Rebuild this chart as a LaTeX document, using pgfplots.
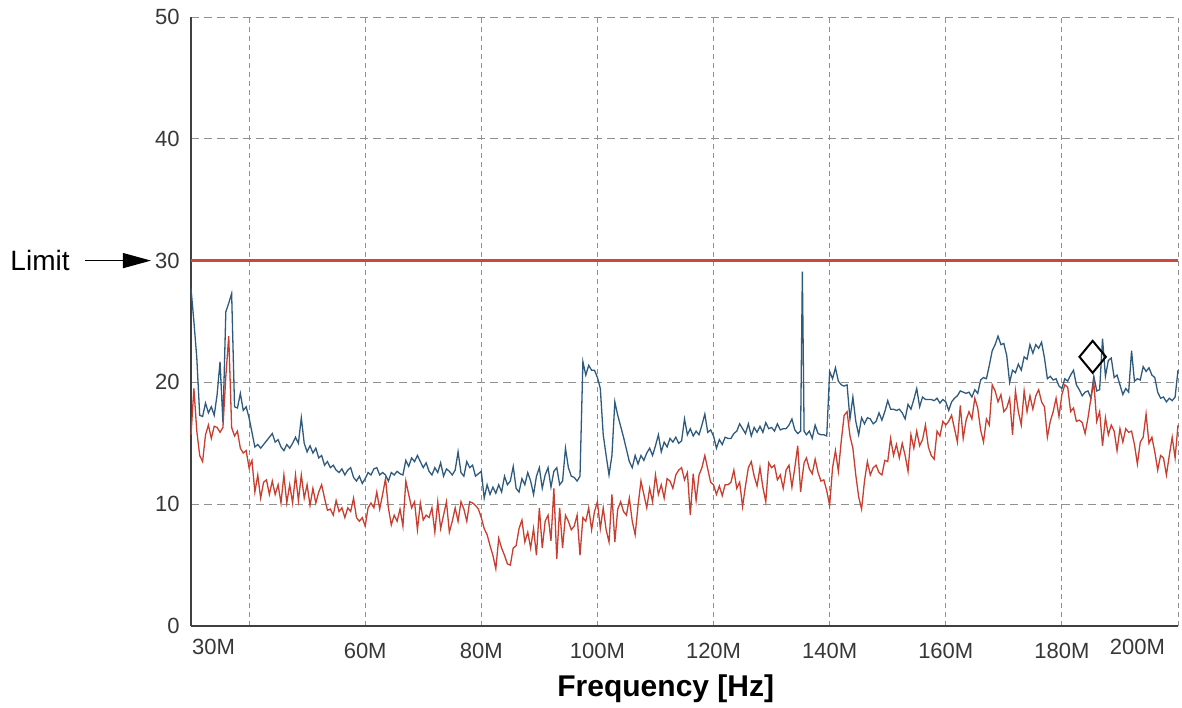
\documentclass[border=0pt]{standalone}
\usepackage{fontspec}
\setmainfont{Liberation Sans}
\usepackage{pgfplots}
\usepackage{pgfplotstable}
\pgfplotsset{compat=1.18}
\usetikzlibrary{arrows.meta}

\definecolor{traceblue}{RGB}{46,90,126}
\definecolor{tracered}{RGB}{200,62,48}
\definecolor{limitred}{RGB}{204,72,58}
\definecolor{gridgray}{RGB}{145,145,145}
\definecolor{labelgray}{RGB}{55,55,55}

% frequency [MHz], upper trace (blue), lower trace (red)
\pgfplotstableread[row sep=\\]{
f b r\\
30.0 27.7 15.7\\ 30.5 25.0 19.5\\ 31.0 22.0 16.0\\ 31.5 17.3 14.0\\ 32.0 17.2 13.5\\ 32.5 18.3 15.7\\
33.0 17.5 16.5\\ 33.5 18.0 15.4\\ 34.0 17.3 16.4\\ 34.5 19.0 16.3\\ 35.0 21.7 15.9\\ 35.5 16.7 16.3\\
36.0 25.8 20.5\\ 36.5 26.5 23.8\\ 37.0 27.3 16.3\\ 37.5 18.0 15.6\\ 38.0 17.9 16.0\\ 38.5 19.1 14.6\\
39.0 17.7 14.2\\ 39.5 18.0 14.4\\ 40.0 17.1 13.0\\ 40.5 15.9 13.6\\ 41.0 14.7 11.0\\
41.5 14.9 12.4\\ 42.0 14.6 10.5\\ 42.5 14.9 11.8\\ 43.0 15.2 12.0\\ 43.5 15.5 10.8\\ 44.0 15.8 11.9\\
44.5 15.1 10.8\\ 45.0 15.3 11.6\\ 45.5 14.7 10.1\\ 46.0 14.4 12.4\\ 46.5 14.9 10.1\\ 47.0 14.6 11.6\\
47.5 15.0 10.1\\ 48.0 15.5 12.4\\ 48.5 15.0 10.3\\ 49.0 17.1 12.4\\ 49.5 15.0 10.5\\ 50.0 14.3 11.6\\
50.5 14.8 9.9\\ 51.0 14.2 11.3\\ 51.5 14.6 10.1\\ 52.0 13.8 11.0\\ 52.5 14.0 11.6\\ 53.0 13.2 10.5\\
53.5 13.5 9.5\\ 54.0 13.0 9.6\\ 54.5 13.2 9.1\\ 55.0 12.8 10.3\\ 55.5 12.6 9.4\\ 56.0 12.9 9.7\\
56.5 12.4 8.9\\ 57.0 12.8 9.7\\ 57.5 13.0 9.4\\ 58.0 12.2 10.5\\
58.5 11.9 8.9\\ 59.0 12.3 8.6\\ 59.5 11.7 8.9\\ 60.0 12.1 8.2\\ 60.5 12.6 9.7\\ 61.0 12.4 10.1\\
61.5 12.9 9.7\\ 62.0 13.0 11.0\\ 62.5 12.4 9.6\\ 63.0 12.6 10.8\\ 63.5 12.4 12.1\\ 64.0 11.9 9.7\\
64.5 12.6 8.3\\ 65.0 12.4 9.1\\ 65.5 12.7 8.6\\ 66.0 12.5 9.6\\ 66.5 12.4 8.2\\ 67.0 13.6 11.9\\
67.5 13.1 10.8\\ 68.0 13.8 9.7\\ 68.5 13.5 10.2\\ 69.0 14.0 7.9\\ 69.5 13.5 10.1\\ 70.0 13.0 8.7\\
70.5 13.4 9.1\\ 71.0 12.7 8.9\\ 71.5 12.4 9.7\\ 72.0 13.0 7.7\\ 72.5 12.6 10.2\\ 73.0 13.4 8.0\\
73.5 12.3 9.1\\ 74.0 12.9 10.2\\ 74.5 12.7 7.7\\ 75.0 12.4 8.6\\ 75.5 12.8 9.7\\ 76.0 14.3 8.6\\
76.5 12.6 10.2\\ 77.0 12.3 9.6\\ 77.5 13.5 8.6\\ 78.0 13.0 10.2\\ 78.5 13.2 10.1\\ 79.0 12.3 9.9\\
79.5 12.5 9.6\\ 80.0 12.7 8.9\\ 80.5 10.5 8.0\\ 81.0 11.6 7.5\\ 81.5 10.8 6.6\\ 82.0 11.4 5.8\\
82.5 10.9 4.7\\ 83.0 11.6 7.2\\ 83.5 11.0 6.4\\ 84.0 12.3 5.8\\ 84.5 11.6 5.1\\ 85.0 11.9 5.0\\
85.5 13.1 6.4\\ 86.0 11.3 6.6\\
86.5 11.0 8.0\\ 87.0 12.1 8.7\\ 87.5 11.6 6.9\\ 88.0 12.6 7.7\\ 88.5 11.9 6.4\\ 89.0 10.8 8.0\\
89.5 12.3 5.8\\ 90.0 13.0 9.7\\ 90.5 11.3 6.4\\ 91.0 12.4 8.6\\ 91.5 13.0 9.1\\ 92.0 11.4 7.0\\
92.5 12.7 11.3\\ 93.0 13.0 5.5\\ 93.5 11.6 9.7\\ 94.0 11.9 6.4\\ 94.5 14.6 9.1\\ 95.0 13.0 8.6\\
95.5 12.3 7.9\\ 96.0 12.2 8.2\\ 96.5 11.9 9.1\\ 97.0 12.3 5.8\\ 97.5 21.7 8.9\\ 98.0 20.6 8.6\\
98.5 21.4 9.7\\ 99.0 21.0 7.9\\ 99.5 21.0 9.4\\ 100.0 20.4 10.2\\ 100.5 19.5 8.0\\ 101.0 15.7 9.7\\
101.5 14.0 7.9\\ 102.0 12.4 6.9\\ 102.5 14.0 10.8\\ 103.0 18.4 6.9\\ 103.5 17.3 9.6\\ 104.0 16.4 10.2\\
104.5 15.5 9.4\\ 105.0 14.5 9.1\\ 105.5 13.5 10.5\\ 106.0 13.0 8.6\\ 106.5 14.0 7.5\\ 107.0 13.3 9.9\\
107.5 14.0 11.9\\ 108.0 13.6 10.8\\ 108.5 14.2 9.7\\ 109.0 14.6 11.3\\ 109.5 14.0 10.2\\ 110.0 14.8 12.4\\
110.5 15.7 10.8\\ 111.0 14.3 11.6\\ 111.5 15.1 10.5\\ 112.0 14.7 12.1\\ 112.5 15.4 11.9\\ 113.0 15.1 11.3\\
113.5 15.5 12.4\\ 114.0 15.0 12.8\\ 114.5 15.2 13.0\\
115.0 17.0 12.0\\ 115.5 15.7 12.6\\ 116.0 16.2 9.1\\ 116.5 15.6 12.5\\ 117.0 16.0 10.3\\ 117.5 15.7 12.4\\
118.0 16.5 13.0\\ 118.5 17.4 14.0\\ 119.0 15.9 12.9\\ 119.5 16.1 11.8\\ 120.0 15.6 11.6\\ 120.5 14.6 10.8\\
121.0 15.3 11.5\\ 121.5 14.9 10.7\\ 122.0 15.5 11.6\\ 122.5 15.4 11.6\\ 123.0 15.4 11.8\\ 123.5 15.8 12.8\\
124.0 16.0 11.3\\ 124.5 16.6 11.8\\ 125.0 16.2 9.8\\ 125.5 15.8 11.5\\ 126.0 16.6 13.0\\ 126.5 15.6 13.5\\
127.0 16.3 12.3\\ 127.5 15.9 11.5\\ 128.0 16.4 13.0\\ 128.5 15.9 11.4\\ 129.0 16.7 10.2\\ 129.5 16.2 13.4\\
130.0 16.3 13.0\\ 130.5 16.0 13.2\\ 131.0 16.6 12.0\\ 131.5 16.1 12.4\\ 132.0 16.2 11.3\\ 132.5 16.2 12.8\\
133.0 16.5 13.2\\ 133.5 17.0 11.4\\ 134.0 16.1 13.0\\ 134.5 15.8 14.8\\ 135.0 16.0 11.0\\ 135.3 29.1 12.3\\
135.6 16.0 13.4\\ 136.0 15.7 13.8\\ 136.5 16.0 12.9\\ 137.0 15.4 12.5\\ 137.5 16.5 13.7\\ 138.0 15.8 12.6\\
138.5 15.7 11.9\\ 139.0 15.7 12.0\\ 139.5 15.6 11.1\\ 140.0 20.9 9.9\\ 140.5 20.3 13.0\\ 141.0 21.2 14.4\\
141.5 20.1 12.7\\ 142.0 19.8 15.2\\ 142.5 19.7 17.3\\ 143.0 19.8 17.6\\
143.5 17.0 15.6\\ 144.0 18.8 14.6\\ 144.5 16.8 12.4\\ 145.0 15.7 10.6\\ 145.5 17.1 9.6\\ 146.0 16.6 11.9\\
146.5 17.1 13.5\\ 147.0 17.0 12.4\\ 147.5 16.6 13.0\\ 148.0 16.8 13.2\\ 148.5 17.5 12.6\\ 149.0 16.9 12.4\\
149.5 17.6 13.6\\ 150.0 18.5 13.5\\ 150.5 17.8 15.4\\ 151.0 17.8 14.0\\ 151.5 17.7 14.9\\ 152.0 17.8 13.8\\
152.5 17.5 15.0\\ 153.0 17.0 14.0\\ 153.5 18.2 12.7\\ 154.0 17.8 15.7\\ 154.5 18.6 14.6\\ 155.0 19.5 16.0\\
155.5 18.0 14.8\\ 156.0 18.8 15.3\\ 156.5 18.6 16.5\\ 157.0 18.6 14.7\\ 157.5 18.6 14.0\\ 158.0 18.5 13.7\\
158.5 18.7 16.0\\ 159.0 18.3 15.6\\ 159.5 18.6 16.8\\ 160.0 18.4 16.5\\ 160.5 17.7 16.8\\ 161.0 18.4 17.3\\
161.5 18.7 16.2\\ 162.0 18.9 15.1\\ 162.5 19.3 18.1\\ 163.0 19.2 15.4\\ 163.5 19.1 16.9\\ 164.0 19.2 17.6\\
164.5 18.8 17.0\\ 165.0 19.4 18.7\\ 165.5 19.1 17.9\\ 166.0 20.2 16.1\\ 166.5 20.4 15.1\\ 167.0 20.3 17.0\\
167.5 21.4 16.5\\ 168.0 22.6 19.8\\ 168.5 23.1 19.3\\ 169.0 23.8 18.4\\ 169.5 23.1 19.0\\ 170.0 23.2 17.6\\
170.5 22.2 17.9\\ 171.0 20.0 18.7\\ 171.5 21.0 15.7\\
172.0 20.8 19.3\\ 172.5 21.5 17.6\\ 173.0 21.0 16.5\\ 173.5 22.1 19.3\\ 174.0 21.9 17.6\\ 174.5 23.1 18.9\\
175.0 22.4 17.8\\ 175.5 23.1 18.9\\ 176.0 22.8 19.4\\ 176.5 23.3 18.4\\ 177.0 22.0 18.0\\ 177.5 20.3 15.5\\
178.0 20.5 16.8\\ 178.5 20.2 17.6\\ 179.0 20.3 18.7\\ 179.5 19.7 17.2\\ 180.0 19.5 19.0\\ 180.5 20.3 19.8\\
181.0 20.1 19.6\\ 181.5 20.6 17.6\\ 182.0 21.0 17.9\\ 182.5 19.8 16.8\\ 183.0 19.4 16.9\\ 183.5 18.9 16.7\\
184.0 19.2 15.8\\ 184.5 19.3 17.1\\ 185.0 18.7 18.7\\ 185.5 20.5 20.0\\ 186.0 19.3 16.8\\ 186.5 19.4 17.6\\
187.0 23.6 14.8\\ 187.5 20.5 17.1\\ 188.0 21.8 15.7\\ 188.5 22.0 16.5\\ 189.0 20.4 16.0\\ 189.5 20.6 14.4\\
190.0 19.8 16.2\\ 190.5 19.0 15.1\\ 191.0 19.5 16.2\\ 191.5 19.2 15.9\\ 192.0 22.6 16.0\\ 192.5 20.1 14.9\\
193.0 20.3 13.3\\ 193.5 20.2 15.1\\ 194.0 21.3 15.5\\ 194.5 20.9 17.4\\ 195.0 21.2 15.0\\ 195.5 20.6 15.5\\
196.0 20.4 14.3\\ 196.5 19.2 12.8\\ 197.0 18.7 14.0\\ 197.5 18.8 13.8\\ 198.0 18.4 12.4\\ 198.5 18.7 14.0\\
199.0 18.5 15.5\\ 199.5 18.8 13.8\\ 200.0 21.0 16.5\\
}\spectrum

\begin{document}
\begin{tikzpicture}
\begin{axis}[
    scale only axis,
    width=493.5pt, height=304.5pt,
    xmin=30, xmax=200, ymin=0, ymax=50,
    axis lines=left,
    axis line style={-, draw=black!75, line width=0.6pt},
    xtick={40,60,...,200},
    xticklabels={{},60M,80M,100M,120M,140M,160M,180M,{}},
    ytick={0,10,...,50},
    yticklabels={0,10,20,30,40,50},
    tick style={draw=none},
    grid=major,
    x grid style={gridgray, line width=0.5pt, dash pattern=on 2.5pt off 2pt},
    y grid style={gridgray, line width=0.5pt, dash pattern=on 4pt off 2.5pt},
    tick label style={font=\fontsize{11}{13}\selectfont, text=labelgray},
    xticklabel style={yshift=-3pt},
    /pgf/number format/assume math mode=true,
    clip=false,
    xlabel={Frequency [Hz]},
    xlabel style={at={(axis description cs:0.481,0)}, anchor=north, inner sep=0pt,
        yshift=-24pt, font=\fontsize{15}{18}\selectfont\bfseries},
]
\addplot[limitred, line width=1.2pt] coordinates {(30,30) (200,30)};
\addplot[traceblue, line width=0.65pt] table[x=f, y=b] {\spectrum};
\addplot[tracered, line width=0.65pt] table[x=f, y=r] {\spectrum};
\addplot[only marks, mark=diamond, mark size=8pt,
    mark options={draw=black, fill=white, line width=1pt, xscale=1.1}] coordinates {(185.3,22.1)};

% edge tick labels sit inside the axis ends
\node[anchor=north west, xshift=-3pt, yshift=-3pt, font=\fontsize{11}{13}\selectfont, text=labelgray]
    at (rel axis cs:0,0) {30M};
\node[anchor=north east, xshift=-3pt, yshift=-3pt, font=\fontsize{11}{13}\selectfont, text=labelgray]
    at (rel axis cs:1,0) {200M};

% limit annotation
\draw[-{Triangle[length=14pt,width=7.5pt]}, line width=0.6pt, black]
    ([xshift=-53pt]axis cs:30,30) -- ([xshift=-20pt]axis cs:30,30);
\node[anchor=east, inner sep=0pt, font=\fontsize{14}{16}\selectfont]
    at ([xshift=-60.5pt]axis cs:30,30) {Limit};

\coordinate (bbsw) at ([xshift=-95.5pt,yshift=-40.5pt]rel axis cs:0,0);
\coordinate (bbne) at ([xshift=2pt,yshift=8.5pt]rel axis cs:1,1);
\end{axis}
\pgfresetboundingbox
\path[use as bounding box] (bbsw) rectangle (bbne);
\end{tikzpicture}
\end{document}
